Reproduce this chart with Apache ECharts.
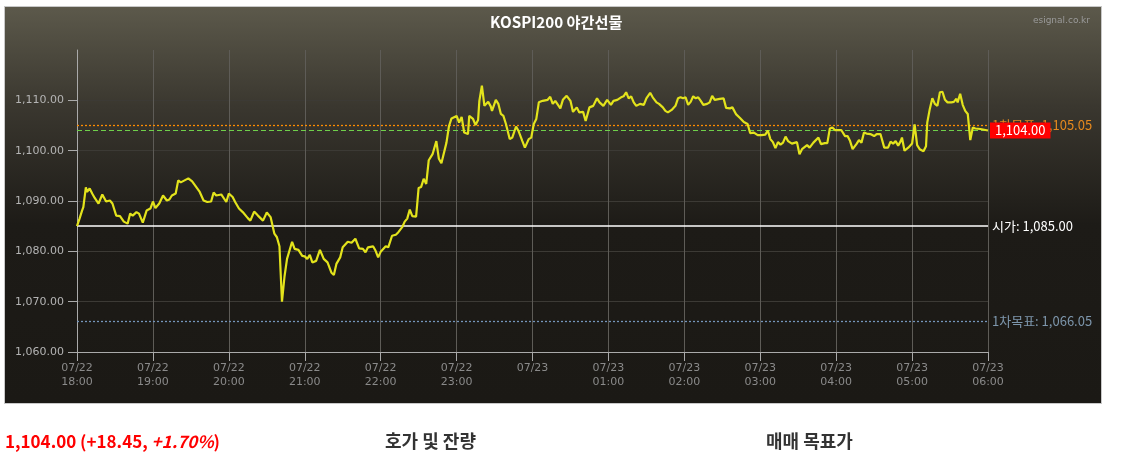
<!DOCTYPE html>
<html>
<head>
<meta charset="utf-8">
<script src="https://cdn.jsdelivr.net/npm/echarts@6/dist/echarts.min.js"></script>
<style>
  html, body { margin: 0; padding: 0; background: #fff; width: 1133px; height: 456px; overflow: hidden; }
  #box {
    position: absolute; left: 4px; top: 6px; width: 1096px; height: 396px;
    border: 1px solid #c8c8c8;
    background: linear-gradient(to bottom, #5c594b 0%, #3a372f 25%, #1d1b17 55%, #1b1915 100%);
  }
  #chart { position: absolute; left: 0; top: 0; width: 1133px; height: 456px; }
  .foot { position: absolute; top: 427px; font-family: "Noto Sans CJK KR", "Noto Sans", sans-serif; font-weight: bold; font-size: 18px; }
  #price { left: 5px; color: #ff0000; font-size: 17px; top: 428px; }
  #h1 { left: 385px; color: #333; }
  #h2 { left: 766px; color: #333; }
</style>
</head>
<body>
<div id="box"></div>
<div id="chart"></div>
<div class="foot" id="price">1,104.00 (+18.45, <i>+1.70%</i>)</div>
<div class="foot" id="h1">호가 및 잔량</div>
<div class="foot" id="h2">매매 목표가</div>
<script>
// minutes since 07/22 18:00
const minutes = [
  0, 2, 4, 5, 7, 8, 10, 12, 14, 17, 20, 23, 26, 28, 31, 34, 37, 40, 42, 44, 47, 49, 52, 55, 58,
  60, 62, 65, 68, 71, 73, 75, 78, 80, 82, 85, 88, 91, 95, 97, 100, 103, 106, 108, 110, 114, 118,
  120, 123, 125, 128, 131, 135, 137, 140, 143, 147, 150, 153, 156, 158, 160, 162, 164, 166, 170, 172, 175, 178,
  180, 182, 184, 186, 189, 192, 195, 198, 201, 203, 205, 208, 210, 214, 217, 220, 223, 226, 228, 230, 234, 236, 238,
  240, 244, 246, 249, 252, 254, 257, 259, 261, 263, 265, 268, 270, 272, 274, 276, 278, 281, 284, 286, 288, 292, 294, 296,
  300, 302, 304, 306, 309, 310, 313, 315, 317, 318, 320, 322, 325, 327, 328, 331, 333, 335, 337, 339, 342, 344, 347, 349, 352, 354, 357, 359,
  361, 363, 365, 368, 372, 374, 376, 378, 382, 384, 387, 390, 392, 395, 397, 400, 402, 405, 408, 411, 413, 416, 419,
  422, 424, 427, 430, 432, 434, 436, 438, 440, 442, 445, 448, 450, 453, 455, 458, 460, 463, 465, 467, 470, 473, 475, 477, 479,
  481, 483, 485, 487, 489, 491, 493, 495, 498, 500, 502, 504, 508, 511, 513, 516, 518, 521, 524, 527, 530, 532, 535, 538,
  541, 544, 546, 548, 550, 552, 554, 556, 558, 560, 562, 565, 569, 571, 573, 577, 579, 582, 586, 588, 591, 593, 595, 597, 599,
  604, 607, 609, 611, 613, 616, 618, 620, 622, 624, 627, 630, 632, 635, 638, 641, 643, 645, 647, 649, 651, 652, 654, 657,
  660, 662, 664, 666, 669, 671, 672, 674, 676, 678, 680, 682, 684, 686, 688, 691, 693, 695, 696, 698, 700, 702, 704, 706, 708,
  710, 714, 718, 720
];
const prices = [
  1085, 1086.5, 1088.1, 1088.8, 1092.7, 1091.8, 1092.5, 1091.5, 1090.6, 1089.5, 1091.3, 1089.9, 1090.1, 1089.5, 1087.1, 1087, 1085.9, 1085.5, 1087.5, 1087.1, 1087.8, 1087.5, 1085.7, 1088.1, 1088.5,
  1089.9, 1088.6, 1089.5, 1091.1, 1090.1, 1090.3, 1091.1, 1091.5, 1094.1, 1093.7, 1094.1, 1094.5, 1093.9, 1092.5, 1091.8, 1090.1, 1089.8, 1089.9, 1091.7, 1091.1, 1091.3, 1089.8,
  1091.5, 1090.8, 1089.8, 1088.5, 1087.8, 1086.6, 1086.1, 1087.9, 1087.1, 1086.1, 1087.7, 1086.8, 1083.5, 1082.8, 1081, 1070, 1075, 1078.5, 1081.9, 1080.5, 1080.3, 1079.1,
  1079, 1078.5, 1079.3, 1077.8, 1078.1, 1080.3, 1078.5, 1077.8, 1075.8, 1075.3, 1077.5, 1078.8, 1080.8, 1081.9, 1081.7, 1082.5, 1080.6, 1080.5, 1079.8, 1080.8, 1081, 1080.1, 1078.8,
  1079.9, 1081, 1080.8, 1083.1, 1083.3, 1083.8, 1084.8, 1085.9, 1086.5, 1088.3, 1087, 1086.9, 1092.6, 1092.8, 1094.4, 1093.4, 1098.1, 1099.3, 1101.9, 1098.4, 1097.5, 1101.6, 1104.9, 1106.4,
  1106.9, 1105.6, 1106.7, 1103.6, 1103.3, 1106.9, 1106.3, 1105.1, 1106.1, 1109.9, 1112.9, 1108.9, 1109.7, 1108.8, 1107.9, 1110.1, 1109.3, 1107.3, 1106.9, 1105.3, 1102.3, 1102.6, 1104.8, 1103.9, 1101.9, 1100.6, 1102.3, 1102.6,
  1105.3, 1106.3, 1109.6, 1109.9, 1110.1, 1110.7, 1109.3, 1109.9, 1108.4, 1110.1, 1110.9, 1109.9, 1107.7, 1108.6, 1107.6, 1107.7, 1105.9, 1108.6, 1108.9, 1110.4, 1109.6, 1108.9, 1110.1,
  1109.1, 1109.9, 1110.1, 1110.6, 1110.8, 1111.6, 1110.4, 1110.8, 1109.6, 1108.9, 1109.3, 1109.1, 1110.4, 1111.5, 1110.6, 1109.6, 1109.3, 1108.6, 1107.9, 1107.6, 1108.1, 1108.9, 1110.4, 1110.6, 1110.4,
  1110.6, 1109.1, 1109.7, 1110.8, 1110.4, 1110.6, 1109.9, 1109.1, 1109.3, 1109.6, 1110.9, 1110.1, 1110.3, 1110.4, 1108.5, 1108.4, 1108.6, 1107.2, 1106.5, 1105.7, 1105.3, 1103.5, 1103.6, 1103.1,
  1103.1, 1103.2, 1104, 1102.3, 1101.7, 1100.5, 1101.7, 1101.2, 1101.6, 1102.8, 1101.9, 1101.4, 1101.7, 1099.3, 1100.3, 1101.1, 1100.6, 1101.6, 1102.6, 1101.3, 1101.5, 1101.5, 1104.4, 1104.6, 1104.1,
  1104.1, 1102.9, 1102.9, 1101.9, 1100.3, 1101.3, 1102.1, 1101.6, 1103.6, 1103.4, 1103.3, 1102.9, 1103.3, 1103.3, 1100.6, 1100.6, 1101.8, 1101.4, 1101.9, 1101, 1101.9, 1102.6, 1100, 1100.6,
  1101.4, 1105.2, 1101.1, 1100.3, 1099.9, 1100.9, 1105.6, 1108.3, 1110.4, 1109.3, 1108.9, 1111.6, 1111.7, 1110.1, 1109.6, 1109.6, 1109.7, 1110.3, 1109.6, 1111.3, 1109.1, 1107.9, 1107.3, 1102.1, 1104.6,
  1104.4, 1104.3, 1104.1, 1104
];
const xTickLabels = [
  '07/22\n18:00', '07/22\n19:00', '07/22\n20:00', '07/22\n21:00', '07/22\n22:00', '07/22\n23:00', '07/23\n',
  '07/23\n01:00', '07/23\n02:00', '07/23\n03:00', '07/23\n04:00', '07/23\n05:00', '07/23\n06:00'
];
const openPrice = 1085.00;
const lastPrice = 1104.00;
const target1 = 1066.05;
const target2 = 1105.05;

const fmt = v => v.toLocaleString('en-US', { minimumFractionDigits: 2, maximumFractionDigits: 2 });

const chart = echarts.init(document.getElementById('chart'));
const option = {
  backgroundColor: 'transparent',
  animation: false,
  title: [
    {
      text: 'KOSPI200 야간선물', left: 485, top: 10,
      textStyle: { color: '#ffffff', fontSize: 15.2, fontWeight: 'bold', fontFamily: 'Noto Sans CJK KR' }
    },
    {
      text: 'esignal.co.kr', right: 38, top: 11,
      textStyle: { color: '#9a9a9a', fontSize: 9, fontWeight: 'normal', fontFamily: 'DejaVu Sans' }
    }
  ],
  grid: { left: 77, right: 145, top: 50, bottom: 104 },
  xAxis: {
    type: 'value', min: 0, max: 720, interval: 60,
    axisLine: { lineStyle: { color: '#aaaaaa', width: 1 } },
    axisTick: { length: 9, lineStyle: { color: '#aaaaaa' } },
    axisLabel: {
      color: '#8a8a8a', fontSize: 11, lineHeight: 14, margin: 9, fontFamily: 'DejaVu Sans',
      formatter: v => xTickLabels[Math.round(v / 60)]
    },
    splitLine: { show: true, lineStyle: { color: '#5e5c57', width: 1 } }
  },
  yAxis: {
    type: 'value', min: 1060, max: 1120, interval: 10,
    axisLine: { show: true, lineStyle: { color: '#aaaaaa', width: 1 } },
    axisTick: { show: true, length: 9, lineStyle: { color: '#aaaaaa' } },
    axisLabel: {
      color: '#b4b4b4', fontSize: 11, margin: 13, fontFamily: 'DejaVu Sans',
      showMaxLabel: false, formatter: v => fmt(v)
    },
    splitLine: { show: true, showMaxLine: false, lineStyle: { color: '#3c3a35', width: 1 } }
  },
  series: [{
    type: 'line',
    data: minutes.map((m, i) => [m, prices[i]]),
    showSymbol: false,
    lineStyle: { color: '#e3e31c', width: 2.2 },
    z: 5,
    markLine: {
      symbol: 'none',
      silent: true,
      animation: false,
      data: [
        {
          yAxis: target1,
          lineStyle: { color: '#7595bb', type: [2, 2], width: 1.3 },
          label: { position: 'end', distance: 4, color: '#7d96ac', fontSize: 13, fontFamily: 'Noto Sans CJK KR', formatter: '1차목표: ' + fmt(target1) }
        },
        {
          yAxis: openPrice,
          lineStyle: { color: '#ffffff', type: 'solid', width: 1.5 },
          label: { position: 'end', distance: 4, color: '#ffffff', fontSize: 13, fontFamily: 'Noto Sans CJK KR', formatter: '시가: ' + fmt(openPrice) }
        },
        {
          yAxis: target2,
          lineStyle: { color: '#ff8c00', type: [2, 2], width: 1.3 },
          label: { position: 'end', distance: 4, color: '#e6891e', fontSize: 13, fontFamily: 'Noto Sans CJK KR', formatter: '1차목표: ' + fmt(target2) }
        },
        {
          yAxis: lastPrice,
          lineStyle: { color: '#6fd04a', type: [5, 3], width: 1 },
          label: {
            position: 'end', distance: 2, color: '#ffffff', fontSize: 13, fontFamily: 'Noto Sans CJK KR',
            backgroundColor: '#ff0000', padding: [2, 5, 1, 5], formatter: fmt(lastPrice)
          }
        }
      ]
    }
  }]
};
chart.setOption(option);
window.addEventListener('resize', () => chart.resize());
</script>
</body>
</html>
